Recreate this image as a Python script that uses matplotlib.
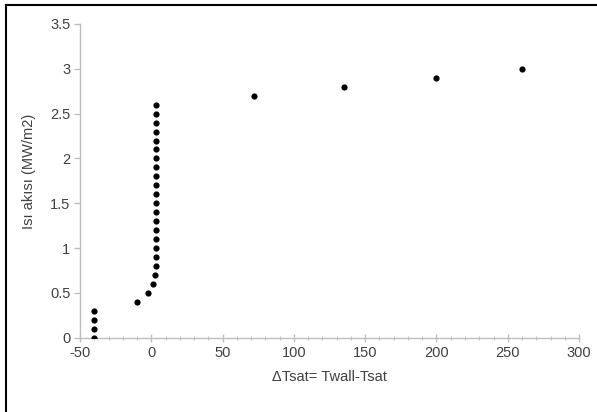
import matplotlib.pyplot as plt
from matplotlib.lines import Line2D
from matplotlib.ticker import MultipleLocator, FormatStrFormatter

plt.rcParams['font.family'] = ['Liberation Sans', 'DejaVu Sans']
plt.rcParams['axes.unicode_minus'] = False

# ΔT (°C) ve ısı akısı (MW/m2) noktaları
dT = [-40, -40, -40, -40, -10, -2, 1.5, 2.5,
      3, 3, 3, 3, 3, 3, 3, 3, 3, 3, 3, 3, 3, 3, 3, 3, 3, 3, 3,
      72, 135, 200, 260]
q = [0.0, 0.1, 0.2, 0.3, 0.4, 0.5, 0.6, 0.7,
     0.8, 0.9, 1.0, 1.1, 1.2, 1.3, 1.4, 1.5, 1.6, 1.7, 1.8, 1.9, 2.0,
     2.1, 2.2, 2.3, 2.4, 2.5, 2.6,
     2.7, 2.8, 2.9, 3.0]

x_label = "ΔTsat= Twall-Tsat"
y_label = "Isı akısı (MW/m2)"

axis_grey = "#bfbfbf"
text_grey = "#404040"

fig = plt.figure(figsize=(5.97, 4.12), dpi=100)
ax = fig.add_axes([0.134, 0.18, 0.836, 0.762])

ax.scatter(dT, q, s=20, color="black", zorder=3, linewidths=0)

ax.set_xlim(-50, 300)
ax.set_ylim(0, 3.5)
ax.xaxis.set_major_locator(MultipleLocator(50))
ax.xaxis.set_minor_locator(MultipleLocator(10))
ax.yaxis.set_major_locator(MultipleLocator(0.5))
ax.yaxis.set_major_formatter(FormatStrFormatter('%g'))

for side in ("top", "right"):
    ax.spines[side].set_visible(False)
for side in ("left", "bottom"):
    ax.spines[side].set_color(axis_grey)
    ax.spines[side].set_linewidth(1.0)

ax.tick_params(axis="x", which="major", direction="inout", length=6,
               width=1, color=axis_grey, labelsize=10.5, labelcolor=text_grey, pad=3)
ax.tick_params(axis="x", which="minor", direction="inout", length=3,
               width=0.8, color=axis_grey)
ax.tick_params(axis="y", which="major", direction="out", length=4,
               width=1, color=axis_grey, labelsize=10.5, labelcolor=text_grey, pad=3)

ax.set_xlabel(x_label, fontsize=10.5, color=text_grey, labelpad=7)
ax.set_ylabel(y_label, fontsize=10.5, color=text_grey)
ax.yaxis.set_label_coords(-0.088, 0.53)

# çerçevenin üst ve sol kenarı
fig.add_artist(Line2D([6 / 597, 1], [1 - 5 / 412, 1 - 5 / 412],
                      transform=fig.transFigure, color="black", linewidth=1.5))
fig.add_artist(Line2D([6 / 597, 6 / 597], [0, 1 - 5 / 412],
                      transform=fig.transFigure, color="black", linewidth=1.5))

fig.savefig("out.png", dpi=100)
